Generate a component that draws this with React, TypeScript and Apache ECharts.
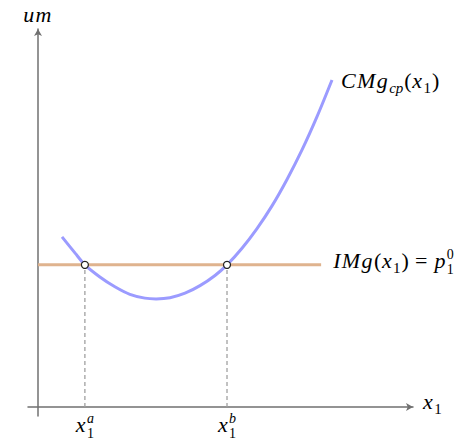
import React, { useEffect, useRef } from 'react';
import * as echarts from 'echarts';

// ---- data ----
const curveX = [0.64, 0.99, 1.25, 1.65, 2.05, 2.45, 2.85, 3.15, 3.52, 3.92, 4.32, 4.72, 5.04, 5.44, 5.84, 6.24, 6.64, 7.04, 7.44, 7.84];
const curveY = [4.5, 4.07, 3.76, 3.44, 3.18, 2.98, 2.88, 2.86, 2.89, 3.01, 3.21, 3.48, 3.76, 4.2, 4.72, 5.32, 6.02, 6.8, 7.68, 8.65];
const priceLevel = 3.76;
const priceLineX = [0, 7.55];
const intersectionX = [1.25, 5.04];
const intersectionSup = ['a', 'b'];
const xMin = -0.267;
const yMin = -0.238;
const axisMax = 10;

const BLUE = '#9b9bff';
const ORANGE = '#dfb38e';
const AXIS = '#707070';
const DASH = '#a0a0a0';
const FONT = '"Liberation Serif", "DejaVu Serif", serif';
const M = 22;
const S = 15;
const SS = 14;

type Piece = { t: string; it: boolean; lvl: 'base' | 'sub' | 'subS' | 'supS'; gap?: number };
type Item = Piece | Piece[];

const shift: Record<string, number> = { base: 0, sub: 5, subS: 6, supS: -9 };
const sizeOf = (p: Piece) => (p.lvl === 'base' ? M : p.lvl === 'sub' ? S : SS);

let ctx: CanvasRenderingContext2D | null = null;
function measure(t: string, size: number, it: boolean) {
  if (!ctx) ctx = document.createElement('canvas').getContext('2d');
  ctx!.font = `${it ? 'italic ' : ''}${size}px ${FONT}`;
  return ctx!.measureText(t).width;
}

function pieceEl(p: Piece, x: number, baseline: number) {
  const size = sizeOf(p);
  const b = baseline + shift[p.lvl];
  const y = b - 0.3375 * size;
  return {
    type: 'text',
    x,
    y,
    silent: true,
    style: {
      text: p.t,
      fill: '#000',
      font: `${p.it ? 'italic ' : ''}${size}px ${FONT}`,
      align: 'left',
      verticalAlign: 'middle',
      textAlign: 'left',
      textVerticalAlign: 'middle',
    },
  };
}

function itemWidth(it: Item) {
  const arr = Array.isArray(it) ? it : [it];
  return Math.max(...arr.map((p) => measure(p.t, sizeOf(p), p.it) + (p.gap ?? 0)));
}

function layout(items: Item[], x0: number, baseline: number, align: 'left' | 'center' = 'left') {
  const total = items.reduce((s, it) => s + itemWidth(it), 0);
  let x = align === 'center' ? x0 - total / 2 : x0;
  const els: any[] = [];
  items.forEach((it) => {
    const arr = Array.isArray(it) ? it : [it];
    arr.forEach((p) => els.push(pieceEl(p, x, baseline)));
    x += itemWidth(it);
  });
  return els;
}

// italic base letters, split per char with a little math-italic tracking
const bi = (t: string): Piece[] => t.split('').map((c) => ({ t: c, it: true, lvl: 'base', gap: 1.4 }) as Piece);
const br = (t: string, gap = 0.6): Piece => ({ t, it: false, lvl: 'base', gap });
const sub = (t: string, it: boolean): Piece => ({ t, it, lvl: 'sub', gap: 1 });

export default function App() {
  const ref = useRef<HTMLDivElement>(null);
  useEffect(() => {
    if (!ref.current) return;
    const chart = echarts.init(ref.current, undefined, { renderer: 'svg' });
    const axisCommon = {
      type: 'value' as const,
      max: axisMax,
      axisLine: {
        show: true,
        onZero: true,
        symbol: ['none', 'arrow'],
        symbolSize: [6, 7],
        lineStyle: { color: AXIS, width: 1.5 },
      },
      axisTick: { show: false },
      axisLabel: { show: false },
      splitLine: { show: false },
    };
    const series: any[] = [];
    intersectionX.forEach((x) => {
      series.push({
        type: 'line',
        data: [
          [x, 0],
          [x, priceLevel],
        ],
        showSymbol: false,
        silent: true,
        lineStyle: { color: DASH, width: 1.3, type: [4, 3] },
        z: 1,
      });
    });
    series.push({
      type: 'line',
      data: curveX.map((x, i) => [x, curveY[i]]),
      smooth: 0.3,
      showSymbol: false,
      silent: true,
      lineStyle: { color: BLUE, width: 3 },
      z: 2,
    });
    series.push({
      type: 'line',
      data: priceLineX.map((x) => [x, priceLevel]),
      showSymbol: false,
      silent: true,
      lineStyle: { color: ORANGE, width: 3 },
      z: 3,
    });
    series.push({
      type: 'scatter',
      data: intersectionX.map((x) => [x, priceLevel]),
      symbol: 'circle',
      symbolSize: 7,
      silent: true,
      itemStyle: { color: '#fff', borderColor: '#222', borderWidth: 1.2, opacity: 1 },
      z: 5,
    });
    chart.setOption({
      animation: false,
      grid: { left: 28, top: 29, width: 385, height: 387 },
      xAxis: { ...axisCommon, min: xMin },
      yAxis: { ...axisCommon, min: yMin },
      series,
    });

    const px = (x: number, y: number) => chart.convertToPixel({ gridIndex: 0 }, [x, y]) as number[];
    const origin = px(0, 0);
    const yTop = px(0, axisMax);
    const xEnd = px(axisMax, 0);
    const curveEnd = px(curveX[curveX.length - 1], curveY[curveY.length - 1]);
    const lineEnd = px(priceLineX[1], priceLevel);

    const els: any[] = [];
    els.push(...layout([...bi('um')], origin[0], yTop[1] - 7, 'center'));
    els.push(...layout([...bi('x'), sub('1', false)], xEnd[0] + 10, origin[1] + 2));
    els.push(
      ...layout(
        [...bi('CMg'), sub('cp', true), br('('), ...bi('x'), sub('1', false), br(')')],
        curveEnd[0] + 9,
        curveEnd[1] + 8
      )
    );
    els.push(
      ...layout(
        [
          ...bi('IMg'),
          br('('),
          ...bi('x'),
          sub('1', false),
          br(')'),
          br(' = ', 1.5),
          ...bi('p'),
          [
            { t: '1', it: false, lvl: 'subS' },
            { t: '0', it: false, lvl: 'supS' },
          ],
        ],
        lineEnd[0] + 12,
        lineEnd[1] + 3
      )
    );
    intersectionX.forEach((x, i) => {
      const p = px(x, 0);
      els.push(
        ...layout(
          [
            ...bi('x'),
            [
              { t: '1', it: false, lvl: 'subS' },
              { t: intersectionSup[i], it: true, lvl: 'supS' },
            ],
          ],
          p[0],
          p[1] + 25,
          'center'
        )
      );
    });
    chart.setOption({ graphic: { elements: els } });

    return () => chart.dispose();
  }, []);
  return (
    <div
      ref={ref}
      style={{ position: 'fixed', left: 0, top: 0, width: 471, height: 442, background: '#fff' }}
    />
  );
}
